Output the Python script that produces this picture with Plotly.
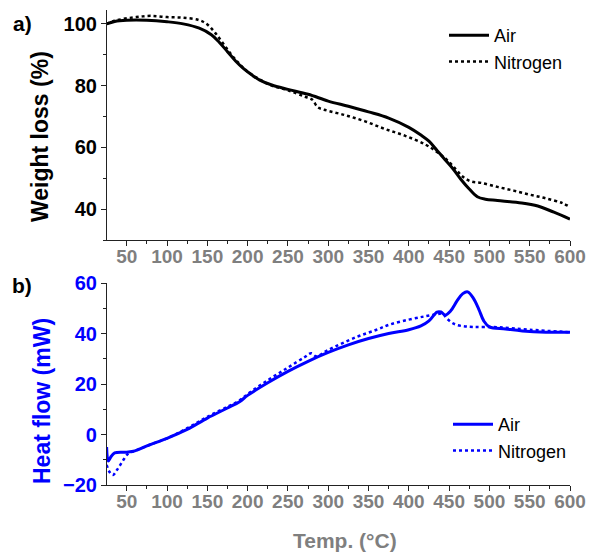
import plotly.graph_objects as go

# ---------------- data ----------------
tga_air_x = [25, 35, 50, 75, 100, 120, 140, 155, 165, 175, 185, 195, 205, 215, 230, 250, 275, 300,
             325, 350, 375, 400, 415, 425, 435, 445, 455, 465, 475, 485, 495, 510, 540, 560, 580, 600]
tga_air_y = [100, 100.8, 101.2, 101.2, 100.7, 100, 98.6, 96.5, 94, 91, 88, 85.5, 83.5, 81.8, 80.2,
             78.8, 77.2, 75, 73.3, 71.5, 69.5, 66.5, 64, 62, 59, 56, 53, 49.5, 46.5, 44, 43.2,
             42.8, 42, 41, 39, 36.8]

tga_n2_x = [25, 35, 50, 65, 80, 100, 120, 140, 150, 160, 170, 180, 190, 200, 215, 230, 250, 270,
            280, 287, 295, 320, 345, 370, 395, 420, 435, 447, 458, 467, 477, 490, 510, 530, 550,
            570, 590, 600]
tga_n2_y = [100, 101, 101.8, 102.3, 102.6, 102.2, 102, 101.2, 99.8, 97, 93.5, 90, 87, 84.5, 82,
            80, 78.5, 76.5, 75.5, 73, 72.2, 70.5, 68.5, 66, 63.8, 61, 58.5, 56, 53, 50.5, 49,
            48.5, 47.2, 46, 44.7, 43.5, 42, 40.7]

dsc_air_x = [25, 27, 30, 35, 50, 60, 75, 100, 125, 150, 175, 190, 200, 225, 250, 275, 300, 325,
             350, 375, 400, 415, 425, 435, 440, 445, 452, 460, 467, 473, 480, 487, 493, 500, 520,
             541, 570, 600]
dsc_air_y = [-5, -10.5, -9, -7.3, -7, -6.5, -4.5, -1.5, 2, 6.5, 10.5, 13, 15.5, 20.5, 25, 29,
             32.5, 35.5, 38, 40, 41.5, 43, 45, 48.5, 48.5, 47.3, 49, 53, 55.8, 56.5, 54, 49.5,
             45, 42.6, 41.8, 41, 40.5, 40.5]

dsc_n2_x = [25, 29, 33, 38, 45, 52, 60, 75, 100, 125, 150, 175, 190, 200, 225, 250, 270, 279,
            285, 300, 335, 360, 376, 400, 420, 434, 442, 447, 455, 465, 480, 510, 550, 600]
dsc_n2_y = [-12, -15, -16, -14, -10.5, -7.5, -6.5, -4.5, -1.5, 2.5, 7, 11, 13.5, 16, 21.5, 26.5,
            30.5, 32.2, 31, 33.5, 38.6, 41.5, 43.5, 45.5, 46.8, 47.6, 47.8, 46, 44, 43, 42.6,
            42.5, 41.5, 40.5]

x_ticks = [50, 100, 150, 200, 250, 300, 350, 400, 450, 500, 550, 600]
tga_ticks = [40, 60, 80, 100]
dsc_ticks = [-20, 0, 20, 40, 60]

# ---------------- styling ----------------
FONT = "Liberation Sans, Arial, sans-serif"
BLUE = "#0000FF"
GRAY = "#7F7F7F"
AXC = "#222222"

fig = go.Figure()
fig.add_trace(go.Scatter(x=tga_air_x, y=tga_air_y, name="Air", mode="lines",
                         line=dict(color="black", width=3, shape="spline"),
                         xaxis="x", yaxis="y", legend="legend"))
fig.add_trace(go.Scatter(x=tga_n2_x, y=tga_n2_y, name="Nitrogen", mode="lines",
                         line=dict(color="black", width=2.5, dash="dot", shape="spline"),
                         xaxis="x", yaxis="y", legend="legend"))
fig.add_trace(go.Scatter(x=dsc_air_x, y=dsc_air_y, name="Air", mode="lines",
                         line=dict(color=BLUE, width=3, shape="spline"),
                         xaxis="x2", yaxis="y2", legend="legend2"))
fig.add_trace(go.Scatter(x=dsc_n2_x, y=dsc_n2_y, name="Nitrogen", mode="lines",
                         line=dict(color=BLUE, width=2.5, dash="dot", shape="spline"),
                         xaxis="x2", yaxis="y2", legend="legend2"))

L, R, T, B = 107, 20, 10, 69
W, H = 590, 554
PW, PH = W - L - R, H - T - B


def px_x(px):
    return (px - L) / PW


def px_y(py):
    return (H - B - py) / PH


xcommon = dict(range=[25.5, 600], tickvals=x_ticks, ticks="outside", ticklen=5, tickwidth=1.2,
               tickcolor=AXC, showline=True, linecolor=AXC, linewidth=1.2, showgrid=False,
               zeroline=False, automargin=False, ticklabelstandoff=-6,
               tickfont=dict(family=FONT, size=19, color=GRAY, weight="bold"),
               minor=dict(dtick=25, tick0=25, ticks="outside", ticklen=3, tickcolor=AXC))

fig.update_layout(
    width=W, height=H,
    margin=dict(l=L, r=R, t=T, b=B, autoexpand=False),
    paper_bgcolor="white", plot_bgcolor="white",
    font=dict(family=FONT),
    xaxis=dict(domain=[0, 1], anchor="y", **xcommon),
    xaxis2=dict(domain=[0, 1], anchor="y2", **xcommon),
    yaxis=dict(domain=[px_y(240), 1], range=[30, 104.5], tickvals=tga_ticks, ticks="outside",
               ticklen=5, tickwidth=1.2, tickcolor=AXC, showline=True, linecolor=AXC,
               linewidth=1.2, showgrid=False, zeroline=False, automargin=False,
               tickfont=dict(family=FONT, size=20, color="black", weight="bold"),
               minor=dict(dtick=10, tick0=30, ticks="outside", ticklen=3, tickcolor=AXC)),
    yaxis2=dict(domain=[0, px_y(283)], range=[-20, 60], tickvals=dsc_ticks, ticks="outside",
                ticklen=5, tickwidth=1.2, tickcolor=AXC, showline=True, linecolor=AXC,
                linewidth=1.2, showgrid=False, zeroline=False, automargin=False,
                tickfont=dict(family=FONT, size=20, color=BLUE, weight="bold"),
                minor=dict(dtick=10, tick0=-20, ticks="outside", ticklen=3, tickcolor=AXC)),
    legend=dict(x=px_x(444), y=px_y(17), xanchor="left", yanchor="top",
                bgcolor="rgba(0,0,0,0)", font=dict(family=FONT, size=18, color="black"),
                tracegroupgap=0, itemwidth=40),
    legend2=dict(x=px_x(448), y=px_y(406), xanchor="left", yanchor="top",
                 bgcolor="rgba(0,0,0,0)", font=dict(family=FONT, size=18, color="black"),
                 tracegroupgap=0, itemwidth=40),
    annotations=[
        dict(text="Weight loss (%)", x=px_x(40), y=px_y(137), xref="paper", yref="paper",
             textangle=-90, showarrow=False, xanchor="center", yanchor="middle",
             font=dict(family=FONT, size=23, color="black", weight="bold")),
        dict(text="Heat flow (mW)", x=px_x(42), y=px_y(401), xref="paper", yref="paper",
             textangle=-90, showarrow=False, xanchor="center", yanchor="middle",
             font=dict(family=FONT, size=23, color=BLUE, weight="bold")),
        dict(text="Temp. (°C)", x=px_x(345), y=px_y(540), xref="paper", yref="paper",
             showarrow=False, xanchor="center", yanchor="middle",
             font=dict(family=FONT, size=21, color=GRAY, weight="bold")),
        dict(text="a)", x=px_x(22), y=px_y(23), xref="paper", yref="paper",
             showarrow=False, xanchor="center", yanchor="middle",
             font=dict(family=FONT, size=21, color="black", weight="bold")),
        dict(text="b)", x=px_x(22), y=px_y(285), xref="paper", yref="paper",
             showarrow=False, xanchor="center", yanchor="middle",
             font=dict(family=FONT, size=21, color="black", weight="bold")),
    ],
)

fig.write_html("out.html")
